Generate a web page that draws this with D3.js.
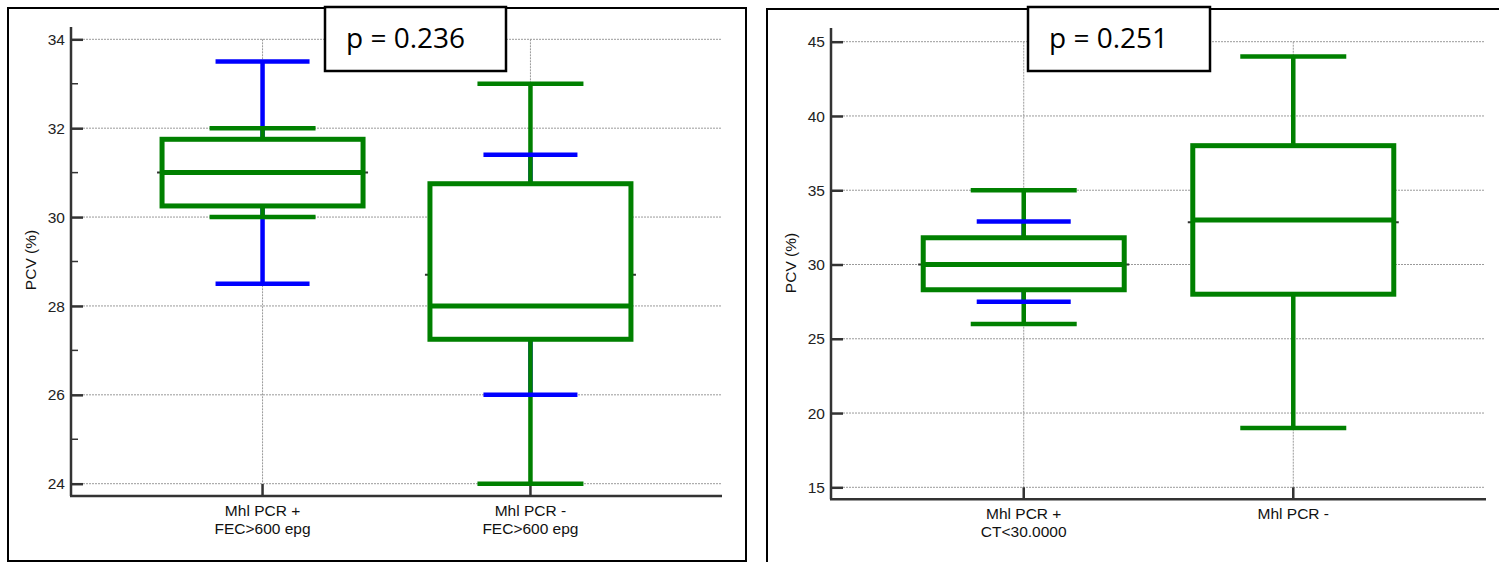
<!DOCTYPE html>
<html lang="en">
<head>
  <meta charset="UTF-8">
  <title>PCV box plots</title>
  <style>
    body { margin: 0; background: #fff; }
    svg { display: block; }
  </style>
</head>
<body>
  <div id="chart"></div>

  <script src="https://d3js.org/d3.v7.min.js"></script>
  <script>
    const SVGWIDTH = 1499;
    const SVGHEIGHT = 562;
    const FONT = '"Liberation Sans", Arial, sans-serif';
    const GREEN = '#008000';
    const BLUE = '#0000ff';

    // left panel data
    const leftCategories = [['Mhl PCR +', 'FEC>600 epg'], ['Mhl PCR -', 'FEC>600 epg']];
    const leftTicks = [24, 26, 28, 30, 32, 34];
    const leftMinorTicks = [25, 27, 29, 31, 33];
    const leftMin = [30.0, 24.0];
    const leftQ1 = [30.25, 27.25];
    const leftMedian = [31.0, 28.0];
    const leftQ3 = [31.75, 30.75];
    const leftMax = [32.0, 33.0];
    const leftMean = [31.0, 28.7];
    const leftBlueLow = [28.5, 26.0];
    const leftBlueHigh = [33.5, 31.4];
    const leftP = 'p = 0.236';

    // right panel data
    const rightCategories = [['Mhl PCR +', 'CT<30.0000'], ['Mhl PCR -']];
    const rightTicks = [15, 20, 25, 30, 35, 40, 45];
    const rightMinorTicks = [];
    const rightMin = [26.0, 19.0];
    const rightQ1 = [28.3, 28.0];
    const rightMedian = [30.0, 33.0];
    const rightQ3 = [31.8, 38.0];
    const rightMax = [35.0, 44.0];
    const rightMean = [30.0, 32.85];
    const rightBlueLow = [27.5, null];
    const rightBlueHigh = [32.9, null];
    const rightP = 'p = 0.251';

    const svg = d3.select('#chart')
      .append('svg')
      .attr('width', SVGWIDTH)
      .attr('height', SVGHEIGHT)
      .attr('viewBox', `0 0 ${SVGWIDTH} ${SVGHEIGHT}`);

    svg.append('rect').attr('width', SVGWIDTH).attr('height', SVGHEIGHT).attr('fill', '#fff');

    function zipStats(cats, min, q1, med, q3, max, mean, bl, bh) {
      return cats.map((c, i) => ({
        key: i, label: c, min: min[i], q1: q1[i], median: med[i], q3: q3[i],
        max: max[i], mean: mean[i], blueLow: bl[i], blueHigh: bh[i]
      }));
    }

    function drawPanel(cfg) {
      const g = svg.append('g');
      const data = cfg.data;

      // outer frame
      g.append('rect')
        .attr('x', cfg.frame.x).attr('y', cfg.frame.y)
        .attr('width', cfg.frame.w).attr('height', cfg.frame.h)
        .attr('fill', 'none').attr('stroke', '#000').attr('stroke-width', 2);

      const yScale = d3.scaleLinear().domain(cfg.domain).range([cfg.yLow, cfg.yHigh]);
      const xScale = d3.scalePoint()
        .domain(data.map(d => d.key))
        .range([cfg.x0, cfg.x1])
        .padding(0.715);

      // grid
      const grid = g.append('g')
        .attr('stroke', '#9a9a9a').attr('stroke-width', 1).attr('stroke-dasharray', '2,1');
      grid.selectAll('line.h')
        .data(cfg.ticks)
        .enter().append('line')
        .attr('class', 'h')
        .attr('x1', cfg.x0 + 12).attr('x2', cfg.x1 - 1)
        .attr('y1', d => yScale(d)).attr('y2', d => yScale(d));
      grid.selectAll('line.v')
        .data(data)
        .enter().append('line')
        .attr('class', 'v')
        .attr('x1', d => xScale(d.key)).attr('x2', d => xScale(d.key))
        .attr('y1', yScale(cfg.domain[1])).attr('y2', yScale(cfg.domain[0]));

      // y axis with inward ticks
      const yAxis = d3.axisLeft(yScale)
        .tickValues(cfg.ticks)
        .tickSize(-12)
        .tickSizeOuter(0)
        .tickPadding(6)
        .tickFormat(d3.format('d'));
      const yAxisG = g.append('g')
        .attr('transform', `translate(${cfg.x0},0)`)
        .call(yAxis);
      yAxisG.select('.domain').remove();
      yAxisG.selectAll('.tick line').attr('stroke', '#333').attr('stroke-width', 2.5);
      yAxisG.selectAll('.tick text')
        .attr('fill', '#222')
        .attr('font-family', FONT)
        .attr('font-size', '15.5px')
        .attr('dy', '0.33em');

      g.selectAll('line.minor')
        .data(cfg.minorTicks)
        .enter().append('line')
        .attr('class', 'minor')
        .attr('x1', cfg.x0).attr('x2', cfg.x0 + 7)
        .attr('y1', d => yScale(d)).attr('y2', d => yScale(d))
        .attr('stroke', '#333').attr('stroke-width', 1.5);

      // axis lines
      g.append('line')
        .attr('x1', cfg.x0).attr('x2', cfg.x0)
        .attr('y1', cfg.axisTop).attr('y2', cfg.axisBottom)
        .attr('stroke', '#333').attr('stroke-width', 2.5);
      g.append('line')
        .attr('x1', cfg.x0 - 1).attr('x2', cfg.x1)
        .attr('y1', cfg.axisBottom).attr('y2', cfg.axisBottom)
        .attr('stroke', '#333').attr('stroke-width', 2.5);

      // x ticks
      g.selectAll('line.xtick')
        .data(data)
        .enter().append('line')
        .attr('class', 'xtick')
        .attr('x1', d => xScale(d.key)).attr('x2', d => xScale(d.key))
        .attr('y1', cfg.axisBottom).attr('y2', cfg.axisBottom - 12)
        .attr('stroke', '#333').attr('stroke-width', 2.5);

      // x labels
      const xl = g.selectAll('text.xlabel')
        .data(data)
        .enter().append('text')
        .attr('class', 'xlabel')
        .attr('text-anchor', 'middle')
        .attr('font-family', FONT)
        .attr('font-size', '15.5px')
        .attr('fill', '#111');
      xl.selectAll('tspan')
        .data(d => d.label.map(t => ({ t: t, x: xScale(d.key) })))
        .enter().append('tspan')
        .attr('x', d => d.x)
        .attr('y', (d, i) => cfg.axisBottom + 20 + i * 18)
        .text(d => d.t);

      // y label
      g.append('text')
        .attr('transform', `translate(${cfg.x0 - 35},${cfg.yLabelY}) rotate(-90)`)
        .attr('text-anchor', 'middle')
        .attr('font-family', FONT)
        .attr('font-size', '15.5px')
        .attr('fill', '#111')
        .text('PCV (%)');

      // boxes
      const BOX_HALF = 100.5;
      const boxes = g.selectAll('g.box')
        .data(data)
        .enter().append('g')
        .attr('class', 'box')
        .attr('transform', d => `translate(${xScale(d.key)},0)`);

      // mean marker, mostly hidden behind the white box
      boxes.append('line')
        .attr('x1', -BOX_HALF - 5).attr('x2', BOX_HALF + 5)
        .attr('y1', d => yScale(d.mean)).attr('y2', d => yScale(d.mean))
        .attr('stroke', '#333').attr('stroke-width', 2);

      // blue whiskers
      const blue = boxes.filter(d => d.blueLow != null);
      blue.append('line')
        .attr('x1', 0).attr('x2', 0)
        .attr('y1', d => yScale(d.blueHigh)).attr('y2', d => yScale(d.q3))
        .attr('stroke', BLUE).attr('stroke-width', 4.5);
      blue.append('line')
        .attr('x1', 0).attr('x2', 0)
        .attr('y1', d => yScale(d.q1)).attr('y2', d => yScale(d.blueLow))
        .attr('stroke', BLUE).attr('stroke-width', 4.5);

      // green whiskers
      boxes.append('line')
        .attr('x1', 0).attr('x2', 0)
        .attr('y1', d => yScale(d.max)).attr('y2', d => yScale(d.q3))
        .attr('stroke', GREEN).attr('stroke-width', 4.5);
      boxes.append('line')
        .attr('x1', 0).attr('x2', 0)
        .attr('y1', d => yScale(d.q1)).attr('y2', d => yScale(d.min))
        .attr('stroke', GREEN).attr('stroke-width', 4.5);
      boxes.append('line')
        .attr('x1', -53).attr('x2', 53)
        .attr('y1', d => yScale(d.max)).attr('y2', d => yScale(d.max))
        .attr('stroke', GREEN).attr('stroke-width', 4.5);
      boxes.append('line')
        .attr('x1', -53).attr('x2', 53)
        .attr('y1', d => yScale(d.min)).attr('y2', d => yScale(d.min))
        .attr('stroke', GREEN).attr('stroke-width', 4.5);

      // blue caps on top
      blue.append('line')
        .attr('x1', -47).attr('x2', 47)
        .attr('y1', d => yScale(d.blueHigh)).attr('y2', d => yScale(d.blueHigh))
        .attr('stroke', BLUE).attr('stroke-width', 4.5);
      blue.append('line')
        .attr('x1', -47).attr('x2', 47)
        .attr('y1', d => yScale(d.blueLow)).attr('y2', d => yScale(d.blueLow))
        .attr('stroke', BLUE).attr('stroke-width', 4.5);

      boxes.append('rect')
        .attr('x', -BOX_HALF)
        .attr('width', BOX_HALF * 2)
        .attr('y', d => yScale(d.q3))
        .attr('height', d => yScale(d.q1) - yScale(d.q3))
        .attr('fill', '#fff')
        .attr('stroke', GREEN).attr('stroke-width', 5);
      boxes.append('line')
        .attr('x1', -BOX_HALF).attr('x2', BOX_HALF)
        .attr('y1', d => yScale(d.median)).attr('y2', d => yScale(d.median))
        .attr('stroke', GREEN).attr('stroke-width', 5);

      // p-value box
      g.append('rect')
        .attr('x', cfg.pBox.x).attr('y', 7)
        .attr('width', cfg.pBox.w).attr('height', 64)
        .attr('fill', '#fff').attr('stroke', '#000').attr('stroke-width', 2.5);
      g.append('text')
        .attr('x', cfg.pBox.x + 21).attr('y', 48)
        .attr('font-family', '"Open Sans", sans-serif')
        .attr('font-size', '28px')
        .attr('fill', '#000')
        .text(cfg.pText);
    }

    drawPanel({
      data: zipStats(leftCategories, leftMin, leftQ1, leftMedian, leftQ3, leftMax, leftMean, leftBlueLow, leftBlueHigh),
      ticks: leftTicks, minorTicks: leftMinorTicks,
      domain: [24, 34], yLow: 483.7, yHigh: 39.3,
      axisTop: 27, axisBottom: 496, x0: 71, x1: 722,
      frame: { x: 8, y: 8, w: 738, h: 553 },
      yLabelY: 260, pBox: { x: 325, w: 181 }, pText: leftP
    });

    drawPanel({
      data: zipStats(rightCategories, rightMin, rightQ1, rightMedian, rightQ3, rightMax, rightMean, rightBlueLow, rightBlueHigh),
      ticks: rightTicks, minorTicks: rightMinorTicks,
      domain: [15, 45], yLow: 487.3, yHigh: 41.7,
      axisTop: 28, axisBottom: 499.3, x0: 831, x1: 1486,
      frame: { x: 767, y: 9, w: 760, h: 580 },
      yLabelY: 263, pBox: { x: 1028, w: 182 }, pText: rightP
    });
  </script>
</body>
</html>
